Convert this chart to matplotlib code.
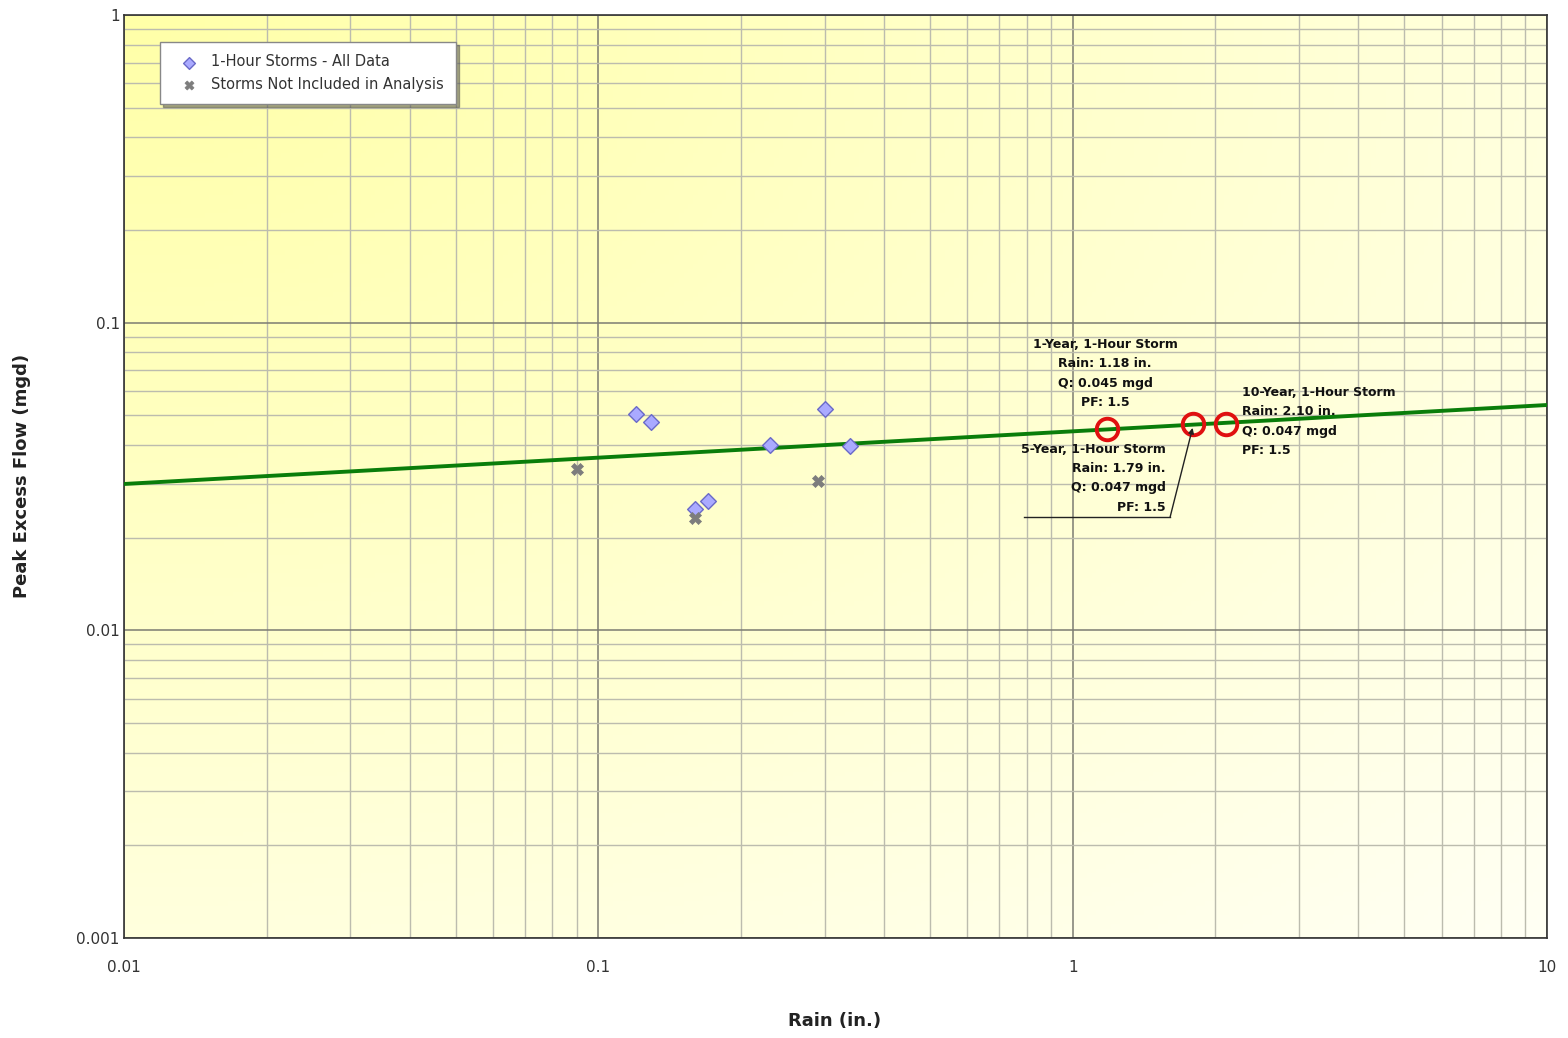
import numpy as np
import matplotlib
matplotlib.use("Agg")
import matplotlib.pyplot as plt
from matplotlib.ticker import LogLocator, NullFormatter, FixedLocator, FixedFormatter

# ---- data ----
all_rain = [0.120, 0.129, 0.160, 0.170, 0.230, 0.300, 0.340]
all_flow = [0.0505, 0.0476, 0.0248, 0.0263, 0.0400, 0.0524, 0.0397]
excl_rain = [0.090, 0.160, 0.290]
excl_flow = [0.0335, 0.0232, 0.0306]
fit_rain = [0.01, 10]
fit_flow = [0.0299, 0.054]
design_rain = [1.18, 1.79, 2.10]
design_flow = [0.045, 0.047, 0.047]
xticks = [0.01, 0.1, 1, 10]
xtick_labels = ["0.01", "0.1", "1", "10"]
yticks = [0.001, 0.01, 0.1, 1]
ytick_labels = ["0.001", "0.01", "0.1", "1"]

W, H = 1568, 1038
fig = plt.figure(figsize=(W / 100, H / 100), dpi=100)
L, R, T, B = 124, 1547, 15, 938
ax = fig.add_axes([L / W, 1 - B / H, (R - L) / W, (B - T) / H])
ax.set_xscale("log")
ax.set_yscale("log")
ax.set_xlim(0.01, 10)
ax.set_ylim(0.001, 1)

# background gradient (yellow at top-left fading to near white at bottom-right)
ny, nx = 200, 300
yy, xx = np.mgrid[0:1:ny * 1j, 0:1:nx * 1j]
d = np.sqrt(xx ** 2 + yy ** 2) / np.sqrt(2)
t = np.clip(d, 0, 1)
blue = 168 + (244 - 168) * t
img = np.dstack([np.ones_like(blue), np.ones_like(blue), blue / 255.0])
ax.imshow(img, extent=[0, 1, 0, 1], transform=ax.transAxes, aspect="auto",
          origin="upper", zorder=0)

# grid
ax.xaxis.set_major_locator(FixedLocator(xticks))
ax.xaxis.set_major_formatter(FixedFormatter(xtick_labels))
ax.yaxis.set_major_locator(FixedLocator(yticks))
ax.yaxis.set_major_formatter(FixedFormatter(ytick_labels))
ax.xaxis.set_minor_locator(LogLocator(base=10, subs=np.arange(2, 10)))
ax.yaxis.set_minor_locator(LogLocator(base=10, subs=np.arange(2, 10)))
ax.xaxis.set_minor_formatter(NullFormatter())
ax.yaxis.set_minor_formatter(NullFormatter())
ax.grid(True, which="minor", color="#bcbcae", lw=1.0, zorder=1)
ax.grid(True, which="major", color="#7c7c72", lw=1.1, zorder=1)
ax.tick_params(which="both", length=0, labelsize=11, labelcolor="#333333")
ax.tick_params(axis="x", pad=16)
ax.tick_params(axis="y", pad=3)
ax.set_axisbelow(True)
for s in ax.spines.values():
    s.set_color("#333333")
    s.set_linewidth(1.2)

# fit line
ax.plot(fit_rain, fit_flow, color="#0a7d0a", lw=2.8, zorder=3)

# data
ax.scatter(all_rain, all_flow, marker="D", s=64, facecolor="#aaaaff",
           edgecolor="#6a6ac8", lw=1.0, zorder=4, label="1-Hour Storms - All Data")
ax.scatter(excl_rain, excl_flow, marker="X", s=75, facecolor="#7d7d7d",
           edgecolor="#7d7d7d", lw=0.5, zorder=4, label="Storms Not Included in Analysis")

# design storms
ax.plot(design_rain, design_flow, ls="none", marker="o", ms=15.5, mfc="none",
        mec="#e01010", mew=2.8, zorder=5)

fs = 9
kw = dict(fontsize=fs, fontweight="bold", color="#111111", linespacing=1.62, zorder=6)
ax.text(1.17, 0.0684, "1-Year, 1-Hour Storm\nRain: 1.18 in.\nQ: 0.045 mgd\nPF: 1.5",
        ha="center", va="center", multialignment="center", **kw)
ax.text(2.276, 0.0477, "10-Year, 1-Hour Storm\nRain: 2.10 in.\nQ: 0.047 mgd\nPF: 1.5",
        ha="left", va="center", multialignment="left", **kw)
ax.text(1.573, 0.0312, "5-Year, 1-Hour Storm\nRain: 1.79 in.\nQ: 0.047 mgd\nPF: 1.5",
        ha="right", va="center", multialignment="right", **kw)
# leader line for 5-year label
ax.plot([0.79, 1.605], [0.02336, 0.02336], color="#222222", lw=1.0, zorder=6)
ax.annotate("", xy=(1.79, 0.0455), xytext=(1.605, 0.02336),
            arrowprops=dict(arrowstyle="-|>", color="#222222", lw=1.0,
                            mutation_scale=8, shrinkA=0, shrinkB=0), zorder=6)

# axis labels
fig.text(22 / W, 1 - 476 / H, "Peak Excess Flow (mgd)", rotation=90, ha="center",
         va="center", fontsize=13, fontweight="bold", color="#222222")
fig.text(835 / W, 1 - 1021 / H, "Rain (in.)", ha="center", va="center",
         fontsize=13, fontweight="bold", color="#222222")

leg = ax.legend(loc="upper left", bbox_to_anchor=(36 / (R - L), 1 - 27 / (B - T)),
                fontsize=10.5, frameon=True, fancybox=False, shadow=True,
                borderpad=0.85, labelspacing=0.5, handletextpad=0.35,
                handlelength=2.3, borderaxespad=0, scatterpoints=1, markerscale=0.75)
leg.get_frame().set_edgecolor("#888888")
leg.get_frame().set_facecolor("white")
leg.get_frame().set_alpha(1.0)
for txt in leg.get_texts():
    txt.set_color("#333333")

fig.savefig("out.png", dpi=100)
